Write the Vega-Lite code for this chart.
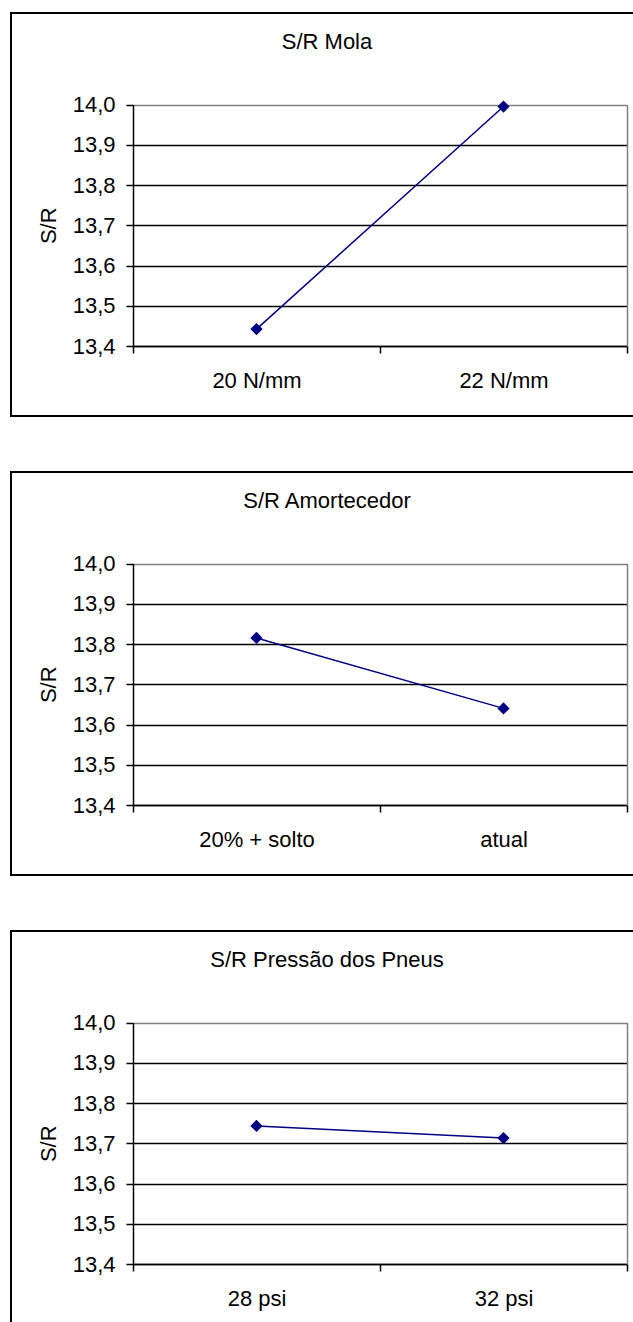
{
  "$schema": "https://vega.github.io/schema/vega-lite/v6.json",
  "padding": {"left": 10, "top": 12, "right": 0, "bottom": 0},
  "background": "white",
  "data": {
    "values": [
      {"painel": "Mola", "nivel": "20 N/mm", "sr": 13.442},
      {"painel": "Mola", "nivel": "22 N/mm", "sr": 13.995},
      {"painel": "Amortecedor", "nivel": "20% + solto", "sr": 13.815},
      {"painel": "Amortecedor", "nivel": "atual", "sr": 13.64},
      {"painel": "Pneus", "nivel": "28 psi", "sr": 13.743},
      {"painel": "Pneus", "nivel": "32 psi", "sr": 13.713}
    ]
  },
  "spacing": 54,
  "vconcat": [
    {
      "title": {"text": "S/R Mola"},
      "width": 624,
      "height": 403,
      "transform": [{"filter": "datum.painel === 'Mola'"}],
      "layer": [
        {
          "mark": {"type": "line", "color": "#000080", "strokeWidth": 1.5},
          "encoding": {
            "x": {"field": "nivel", "type": "nominal", "sort": null, "scale": {"range": [122, 616], "paddingInner": 0, "paddingOuter": 0}, "axis": {"orient": "bottom", "offset": -70, "tickBand": "extent", "title": null, "grid": false, "labelAngle": 0, "labelPadding": 17}},
            "y": {"field": "sr", "type": "quantitative", "scale": {"domain": [13.4, 14.0], "range": [333, 91.5], "zero": false, "nice": false}, "axis": {"orient": "left", "offset": -122, "title": "S/R", "values": [13.4, 13.5, 13.6, 13.7, 13.8, 13.9, 14.0], "labelExpr": "replace(format(datum.value, '.1f'), '.', ',')", "labelPadding": 11, "titlePadding": 12, "grid": true, "gridWidth": 1.5, "gridColor": {"condition": {"test": "datum.value >= 13.99", "value": "#808080"}, "value": "#000000"}}}
          }
        },
        {
          "mark": {"type": "point", "shape": "diamond", "filled": true, "color": "#000080", "size": 150, "opacity": 1},
          "encoding": {
            "x": {"field": "nivel", "type": "nominal", "sort": null},
            "y": {"field": "sr", "type": "quantitative", "axis": {"orient": "right", "offset": -8, "domainColor": "#808080", "ticks": false, "labels": false, "grid": false, "title": null}}
          }
        }
      ],
      "resolve": {"axis": {"y": "independent"}}
    },
    {
      "title": {"text": "S/R Amortecedor"},
      "width": 624,
      "height": 403,
      "transform": [{"filter": "datum.painel === 'Amortecedor'"}],
      "layer": [
        {
          "mark": {"type": "line", "color": "#000080", "strokeWidth": 1.5},
          "encoding": {
            "x": {"field": "nivel", "type": "nominal", "sort": null, "scale": {"range": [122, 616], "paddingInner": 0, "paddingOuter": 0}, "axis": {"orient": "bottom", "offset": -70, "tickBand": "extent", "title": null, "grid": false, "labelAngle": 0, "labelPadding": 17}},
            "y": {"field": "sr", "type": "quantitative", "scale": {"domain": [13.4, 14.0], "range": [333, 91.5], "zero": false, "nice": false}, "axis": {"orient": "left", "offset": -122, "title": "S/R", "values": [13.4, 13.5, 13.6, 13.7, 13.8, 13.9, 14.0], "labelExpr": "replace(format(datum.value, '.1f'), '.', ',')", "labelPadding": 11, "titlePadding": 12, "grid": true, "gridWidth": 1.5, "gridColor": {"condition": {"test": "datum.value >= 13.99", "value": "#808080"}, "value": "#000000"}}}
          }
        },
        {
          "mark": {"type": "point", "shape": "diamond", "filled": true, "color": "#000080", "size": 150, "opacity": 1},
          "encoding": {
            "x": {"field": "nivel", "type": "nominal", "sort": null},
            "y": {"field": "sr", "type": "quantitative", "axis": {"orient": "right", "offset": -8, "domainColor": "#808080", "ticks": false, "labels": false, "grid": false, "title": null}}
          }
        }
      ],
      "resolve": {"axis": {"y": "independent"}}
    },
    {
      "title": {"text": "S/R Pressão dos Pneus"},
      "width": 624,
      "height": 403,
      "transform": [{"filter": "datum.painel === 'Pneus'"}],
      "layer": [
        {
          "mark": {"type": "line", "color": "#000080", "strokeWidth": 1.5},
          "encoding": {
            "x": {"field": "nivel", "type": "nominal", "sort": null, "scale": {"range": [122, 616], "paddingInner": 0, "paddingOuter": 0}, "axis": {"orient": "bottom", "offset": -70, "tickBand": "extent", "title": null, "grid": false, "labelAngle": 0, "labelPadding": 17}},
            "y": {"field": "sr", "type": "quantitative", "scale": {"domain": [13.4, 14.0], "range": [333, 91.5], "zero": false, "nice": false}, "axis": {"orient": "left", "offset": -122, "title": "S/R", "values": [13.4, 13.5, 13.6, 13.7, 13.8, 13.9, 14.0], "labelExpr": "replace(format(datum.value, '.1f'), '.', ',')", "labelPadding": 11, "titlePadding": 12, "grid": true, "gridWidth": 1.5, "gridColor": {"condition": {"test": "datum.value >= 13.99", "value": "#808080"}, "value": "#000000"}}}
          }
        },
        {
          "mark": {"type": "point", "shape": "diamond", "filled": true, "color": "#000080", "size": 150, "opacity": 1},
          "encoding": {
            "x": {"field": "nivel", "type": "nominal", "sort": null},
            "y": {"field": "sr", "type": "quantitative", "axis": {"orient": "right", "offset": -8, "domainColor": "#808080", "ticks": false, "labels": false, "grid": false, "title": null}}
          }
        }
      ],
      "resolve": {"axis": {"y": "independent"}}
    }
  ],
  "config": {
    "font": "Liberation Sans",
    "view": {"stroke": "#000000", "strokeWidth": 2, "fill": "white"},
    "title": {"font": "Liberation Sans", "fontSize": 22, "fontWeight": "normal", "color": "#000000", "anchor": "middle", "frame": "group", "offset": -41, "dx": 4},
    "axis": {
      "labelFont": "Liberation Sans",
      "labelFontSize": 22,
      "labelColor": "#000000",
      "titleFont": "Liberation Sans",
      "titleFontSize": 22,
      "titleFontWeight": "normal",
      "titleColor": "#000000",
      "domainColor": "#000000",
      "domainWidth": 1.5,
      "tickColor": "#000000",
      "tickWidth": 1.5,
      "tickSize": 7
    }
  }
}
